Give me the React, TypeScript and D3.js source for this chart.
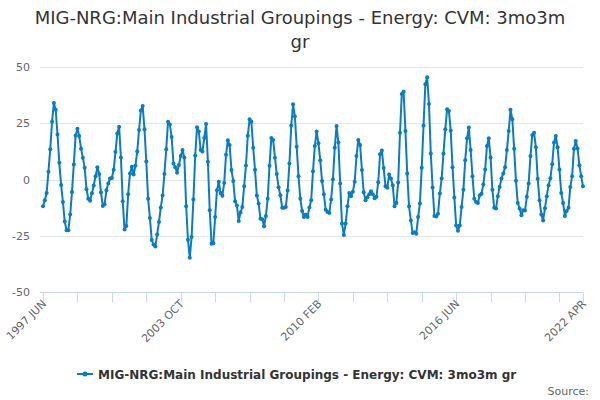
import * as d3 from "d3";
import { useEffect, useRef } from "react";

// first month of the series and the values (3mo3m growth, %)
const startYear = 1997;
const startMonth = 5; // June, 0-based
const monthNames = ["JAN", "FEB", "MAR", "APR", "MAY", "JUN", "JUL", "AUG", "SEP", "OCT", "NOV", "DEC"];

const growth: number[] = [
  -11.9, -9.2, -6, 3.4, 13.5, 25.7, 34, 31, 20, 7.4, -2.4, -10, -18.7, -22.6, -22.5, -15.6, -5.5, 6.7, 19.6, 22.6,
  19.3, 13.7, 9.7, 5.2, -4.3, -8.5, -9.4, -6.1, -2.7, 1.5, 5.4, 2.5, -5.8, -11.8, -11, -4.8, -1.8, 0.4, 0.7, 4.3,
  12.2, 20.4, 23.5, 9.8, -9.7, -22.2, -20.7, -6.5, 2.7, 5.7, 2.2, 6.1, 12.5, 22, 30.7, 32.7, 22.3, 8, -8.5, -17.1,
  -26.9, -28.9, -29.8, -24.4, -18.9, -12.4, -7.1, 2.5, 13.4, 25.7, 24.4, 18.9, 7.1, 5.4, 3, 6.4, 10.4, 13.1, 9.8, -11.9,
  -26.8, -34.8, -25.6, -8.9, 10.7, 23.2, 21.3, 13.1, 12.5, 18.5, 24.7, 7.9, -13.7, -28.6, -28.3, -16.7, -4.8, -1, -6, -7.2,
  -1.5, 11, 17.5, 15.3, 4.2, -0.7, -9.7, -11.5, -18.4, -14.7, -12.2, -3, 6.2, 19.4, 26.8, 25.7, 14.1, 4.3, -7.1, -10.7,
  -17.4, -17.7, -20.8, -16.2, -8.6, 6.1, 18.5, 17.6, 9.7, 2.4, -3.4, -7, -12.5, -12.5, -12.2, -4.9, 7.1, 24, 33.5, 28,
  14.6, 1.5, -8.5, -14, -16.7, -15.5, -16.7, -12.4, -9.2, 3.7, 14.9, 21.3, 16.1, 8.6, -0.7, -6.5, -13.4, -14.4, -14.9, -8.9,
  0.1, 14.1, 23.8, 16.4, -1.8, -19.6, -24.7, -19.6, -11.9, -6, -7.4, -5.4, -1, 10.4, 17.6, 15.3, 4.2, -5.7, -9.2, -7.9,
  -6.5, -5.2, -6.5, -8.3, -7.7, -1.2, 11.2, 12.9, 5.1, -3, -3.7, 2.2, 0.4, -2.5, -11.9, -10.4, -1.3, 20.8, 38, 39,
  21.6, 2.7, -11.9, -18.2, -23.8, -23.4, -24.1, -16.7, -10.7, 5.2, 24, 42.3, 45.5, 33.6, 11.6, -3.6, -16.2, -16.4, -15.2, -6.2,
  0.4, 11.6, 22.3, 31.2, 30.5, 21.7, 5.4, -8, -20.4, -22.8, -20.4, -12.2, -4.5, 8.6, 18.3, 23.1, 13.1, 1.5, -8.6, -10,
  -10.4, -7, -6.3, -2.2, 4.5, 14.9, 18.3, 9.8, -4.6, -12.5, -12.9, -7.4, -3.3, 0.4, 2.7, 5.4, 13.1, 21.6, 31, 26.8,
  13.7, -0.6, -10.4, -12.9, -15.9, -13.7, -13.8, -7.7, -1.8, 10.4, 19.8, 20.8, 14.3, 0.3, -9.2, -15.5, -18.2, -12.8, -7.4, -2.5,
  0.6, 6.8, 16.4, 19.3, 14.3, 4.5, -6, -10.4, -16.2, -14, -12.5, -3.3, 1.5, 13.7, 17.1, 13.8, 6.3, 1.5, -3,
];

const months: string[] = growth.map((_, i) => {
  const m = startMonth + i;
  return `${startYear + Math.floor(m / 12)} ${monthNames[m % 12]}`;
});

const yTicks = [-50, -25, 0, 25, 50];
const tickStep = 19; // a tick every 19 months
const labelStep = 4; // a label every 4 ticks

const seriesName = "MIG-NRG:Main Industrial Groupings - Energy: CVM: 3mo3m gr";
const titleLines = ["MIG-NRG:Main Industrial Groupings - Energy: CVM: 3mo3m", "gr"];

const font = "'DejaVu Sans', Verdana, sans-serif";
const lineColor = "#0a7cc1";

const App = () => {
  const svgRef = useRef<SVGSVGElement | null>(null);

  useEffect(() => {
    const width = 600;
    const height = 400;
    const margin = { top: 67, right: 17, bottom: 108, left: 43 };

    const svg = d3.select(svgRef.current);
    svg.selectAll("*").remove();

    const x = d3
      .scaleLinear()
      .domain([0, months.length - 1])
      .range([margin.left, width - margin.right]);

    const y = d3
      .scaleLinear()
      .domain([-50, 50])
      .range([height - margin.bottom, margin.top]);

    // title
    svg
      .append("text")
      .attr("text-anchor", "middle")
      .style("font-family", font)
      .style("font-size", "18px")
      .attr("fill", "#333333")
      .selectAll("tspan")
      .data(titleLines)
      .join("tspan")
      .attr("x", width / 2)
      .attr("y", (_, i) => 24 + i * 24)
      .text((d) => d);

    // grid lines + y labels
    const yAxis = svg.append("g");
    yAxis
      .selectAll("line")
      .data(yTicks.filter((t) => t !== -50))
      .join("line")
      .attr("x1", margin.left - 3)
      .attr("x2", width - margin.right)
      .attr("y1", (d) => Math.round(y(d)) + 0.5)
      .attr("y2", (d) => Math.round(y(d)) + 0.5)
      .attr("stroke", "#e6e6e6");

    yAxis
      .selectAll("text")
      .data(yTicks)
      .join("text")
      .attr("x", 30)
      .attr("y", (d) => y(d) + 4)
      .attr("text-anchor", "end")
      .style("font-family", font)
      .style("font-size", "11px")
      .attr("fill", "#666666")
      .text((d) => d);

    // x axis
    const axisY = Math.round(y(-50)) + 0.5;
    const xAxis = svg.append("g");
    xAxis
      .append("line")
      .attr("x1", margin.left - 3)
      .attr("x2", width - margin.right)
      .attr("y1", axisY)
      .attr("y2", axisY)
      .attr("stroke", "#ccd6eb");

    const tickIdx = d3.range(0, months.length, tickStep);
    if (tickIdx[tickIdx.length - 1] !== months.length - 1) tickIdx.push(months.length - 1);

    xAxis
      .selectAll("line.tick")
      .data(tickIdx)
      .join("line")
      .attr("class", "tick")
      .attr("x1", (d) => Math.round(x(d)) + 0.5)
      .attr("x2", (d) => Math.round(x(d)) + 0.5)
      .attr("y1", axisY)
      .attr("y2", axisY + 10)
      .attr("stroke", "#ccd6eb");

    const labelIdx = tickIdx.filter((d, i) => i % labelStep === 0 || d === months.length - 1);
    xAxis
      .selectAll("text")
      .data(labelIdx)
      .join("text")
      .attr("transform", (d) => `translate(${x(d) + 4},${axisY + 12}) rotate(-45)`)
      .attr("text-anchor", "end")
      .style("font-family", font)
      .style("font-size", "11px")
      .attr("fill", "#666666")
      .text((d) => months[d]);

    // series
    const line = d3
      .line<number>()
      .x((_, i) => x(i))
      .y((d) => y(d));

    svg
      .append("path")
      .datum(growth)
      .attr("d", line)
      .attr("fill", "none")
      .attr("stroke", lineColor)
      .attr("stroke-width", 2)
      .attr("stroke-linejoin", "round");

    svg
      .append("g")
      .selectAll("circle")
      .data(growth)
      .join("circle")
      .attr("cx", (_, i) => x(i))
      .attr("cy", (d) => y(d))
      .attr("r", 2)
      .attr("fill", lineColor);

    // legend
    const legend = svg.append("g").attr("transform", "translate(77,374)");
    legend
      .append("line")
      .attr("x1", 0)
      .attr("x2", 16)
      .attr("y1", 0)
      .attr("y2", 0)
      .attr("stroke", lineColor)
      .attr("stroke-width", 2);
    legend.append("circle").attr("cx", 8).attr("cy", 0).attr("r", 2.5).attr("fill", lineColor);
    legend
      .append("text")
      .attr("x", 21)
      .attr("y", 4.5)
      .style("font-family", font)
      .style("font-size", "12px")
      .style("font-weight", "bold")
      .attr("fill", "#333333")
      .text(seriesName);

    // credits
    svg
      .append("text")
      .attr("x", 589)
      .attr("y", 395)
      .attr("text-anchor", "end")
      .style("font-family", font)
      .style("font-size", "11px")
      .attr("fill", "#666666")
      .text("Source:");
  }, []);

  return (
    <div style={{ position: "fixed", left: 0, top: 0, width: 600, height: 400 }}>
      <svg ref={svgRef} width={600} height={400} style={{ display: "block", background: "#ffffff" }}></svg>
    </div>
  );
};

export default App;
